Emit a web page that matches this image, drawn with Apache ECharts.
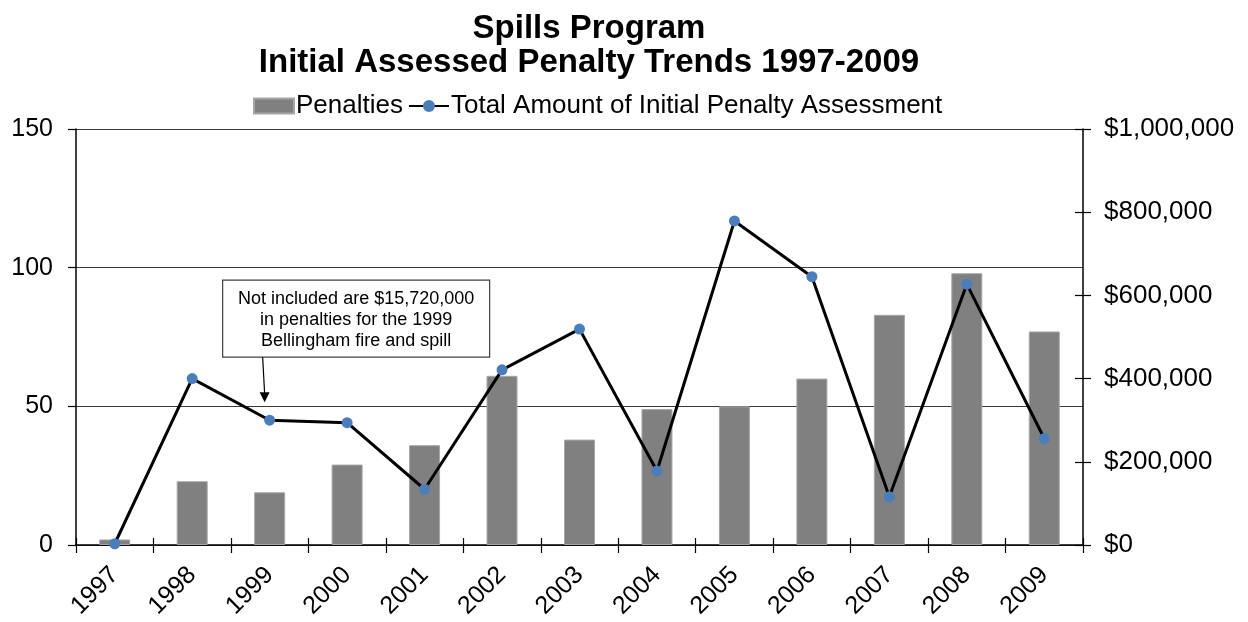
<!DOCTYPE html>
<html>
<head>
<meta charset="utf-8">
<script src="https://cdn.jsdelivr.net/npm/echarts@6/dist/echarts.min.js"></script>
<style>
  html, body { margin: 0; padding: 0; background: #fff; }
  #chart { width: 1248px; height: 622px; }
</style>
</head>
<body>
<div id="chart"></div>
<script>
// Spills Program: number of penalties and total initial assessed amount per year
const years = ['1997','1998','1999','2000','2001','2002','2003','2004','2005','2006','2007','2008','2009'];
const penalties = [2, 23, 19, 29, 36, 61, 38, 49, 50, 60, 83, 98, 77];
const assessedTotal = [3000, 400000, 300000, 294000, 134000, 421000, 519000, 178000, 779000, 645000, 116000, 627000, 256000];
const leftTicks = { min: 0, max: 150, interval: 50 };
const rightTicks = { min: 0, max: 1000000, interval: 200000 };
const noteLines = ['Not included are $15,720,000', 'in penalties for the 1999', 'Bellingham fire and spill'];
const noteYear = '1999';

const FONT = 'Arial, "Liberation Sans", sans-serif';
const money = v => '$' + Math.round(v).toString().replace(/\B(?=(\d{3})+(?!\d))/g, ',');

const chart = echarts.init(document.getElementById('chart'), null, { renderer: 'canvas' });

chart.setOption({
  animation: false,
  backgroundColor: '#fff',
  textStyle: { fontFamily: FONT },
  title: {
    text: 'Spills Program\nInitial Assessed Penalty Trends 1997-2009',
    left: 589,
    textAlign: 'center',
    top: 12,
    padding: 0,
    textStyle: { fontFamily: FONT, fontSize: 33, fontWeight: 'bold', color: '#000', lineHeight: 34 }
  },
  legend: {
    top: 93,
    left: 253,
    padding: 0,
    itemGap: 5,
    itemWidth: 40,
    itemHeight: 15,
    textStyle: { fontFamily: FONT, fontSize: 26, color: '#000', padding: [0, 0, 0, -3] },
    data: [
      { name: 'Penalties', icon: 'rect' },
      { name: 'Total Amount of Initial Penalty Assessment' }
    ]
  },
  grid: { left: 76, right: 165, top: 129, bottom: 77 },
  xAxis: [
    {
      type: 'category',
      data: years,
      boundaryGap: true,
      axisLine: { lineStyle: { color: '#000', width: 1.5 } },
      axisTick: { show: true, length: 8, lineStyle: { color: '#000', width: 1.2 } },
      axisLabel: { rotate: 45, fontSize: 25, color: '#000', fontFamily: FONT, margin: 26, interval: 0 }
    },
    {
      type: 'category',
      data: years,
      position: 'bottom',
      boundaryGap: true,
      axisLine: { show: false },
      axisTick: { show: true, inside: true, length: 7, lineStyle: { color: '#000', width: 1.2 } },
      axisLabel: { show: false }
    }
  ],
  yAxis: [
    {
      type: 'value',
      position: 'left',
      min: leftTicks.min, max: leftTicks.max, interval: leftTicks.interval,
      axisLine: { show: true, lineStyle: { color: '#000', width: 1.5 } },
      axisTick: { show: true, length: 8, lineStyle: { color: '#000', width: 1.2 } },
      axisLabel: { fontSize: 25, color: '#000', fontFamily: FONT, margin: 23 },
      splitLine: { show: true, lineStyle: { color: '#3a3a3a', width: 1.2 } }
    },
    {
      type: 'value',
      position: 'right',
      min: rightTicks.min, max: rightTicks.max, interval: rightTicks.interval,
      axisLine: { show: true, lineStyle: { color: '#000', width: 1.5 } },
      axisTick: { show: true, length: 8, lineStyle: { color: '#000', width: 1.2 } },
      axisLabel: { fontSize: 26, color: '#000', fontFamily: FONT, margin: 21, formatter: money },
      splitLine: { show: false }
    },
    {
      type: 'value',
      position: 'right',
      min: rightTicks.min, max: rightTicks.max, interval: rightTicks.interval,
      axisLine: { show: false },
      axisTick: { show: true, inside: true, length: 8, lineStyle: { color: '#000', width: 1.2 } },
      axisLabel: { show: false },
      splitLine: { show: false }
    }
  ],
  series: [
    {
      name: 'Penalties',
      type: 'bar',
      xAxisIndex: 0,
      yAxisIndex: 0,
      data: penalties,
      barWidth: '40%',
      itemStyle: { color: '#808080', borderColor: '#a6a6a6', borderWidth: 1 }
    },
    {
      name: 'Total Amount of Initial Penalty Assessment',
      type: 'line',
      xAxisIndex: 0,
      yAxisIndex: 1,
      data: assessedTotal,
      symbol: 'circle',
      symbolSize: 11,
      lineStyle: { color: '#000', width: 3 },
      itemStyle: { color: '#4a7ebb' },
      z: 5
    }
  ]
});

// Callout box with arrow pointing at the 1999 point
function drawNote() {
  const p = chart.convertToPixel({ xAxisIndex: 0, yAxisIndex: 0 }, [noteYear, 51.5]);
  const tipX = p[0] - 5, tipY = p[1];
  const boxW = 267, boxH = 77;
  const boxX = tipX - 42, boxY = tipY - 122;
  const tailX = tipX - 2, tailY = boxY + boxH;
  chart.setOption({
    graphic: [
      {
        type: 'rect',
        shape: { x: boxX, y: boxY, width: boxW, height: boxH },
        style: { fill: '#fff', stroke: '#404040', lineWidth: 1.2 },
        z: 10
      },
      {
        type: 'text',
        x: boxX + boxW / 2,
        y: boxY + 8,
        style: {
          text: noteLines.join('\n'),
          fontFamily: FONT,
          fontSize: 18,
          lineHeight: 21,
          fill: '#000',
          align: 'center',
          verticalAlign: 'top'
        },
        z: 11
      },
      {
        type: 'line',
        shape: { x1: tailX, y1: tailY, x2: tipX, y2: tipY - 8 },
        style: { stroke: '#000', lineWidth: 1.2 },
        z: 10
      },
      {
        type: 'polygon',
        shape: { points: [[tipX - 5, tipY - 10], [tipX + 5, tipY - 10], [tipX, tipY]] },
        style: { fill: '#000' },
        z: 10
      }
    ]
  });
}
drawNote();
</script>
</body>
</html>
